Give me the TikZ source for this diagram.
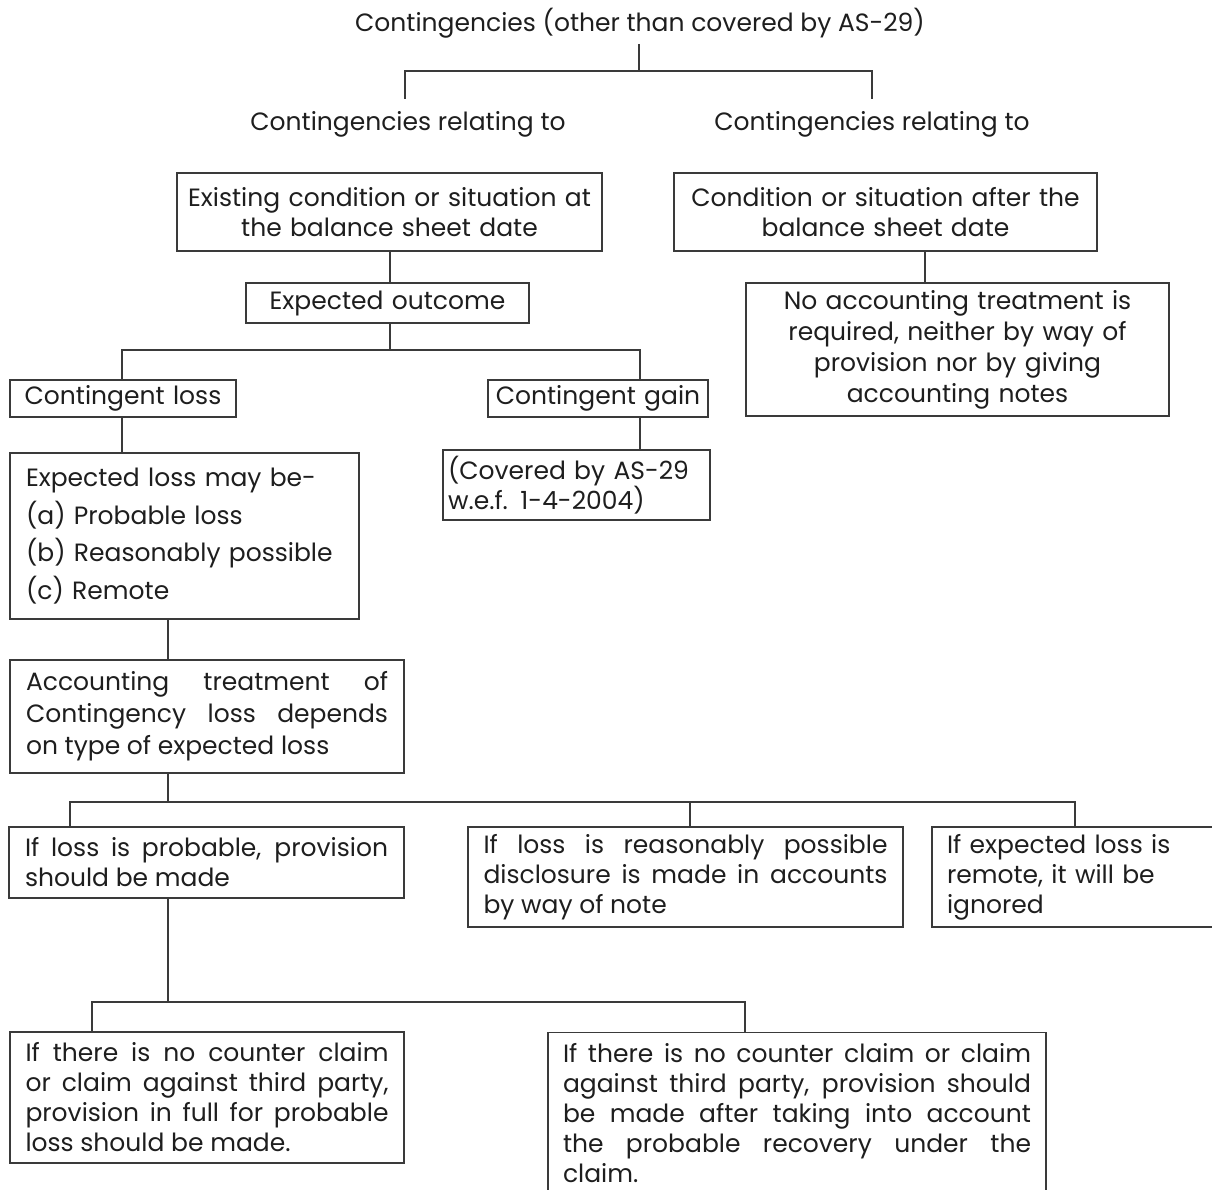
\documentclass[tikz,border=0pt]{standalone}
\usepackage{fontspec}
\setmainfont{Poppins}
\definecolor{ink}{HTML}{1E1E1E}
\definecolor{rule}{HTML}{3A3A3A}
\begin{document}
\begin{tikzpicture}[x=1pt,y=-1pt,
  link/.style={draw=rule, line width=1.3pt},
  base/.style={font=\fontsize{25}{30}\selectfont, text=ink, inner sep=0pt},
  frame/.style={base, draw=rule, line width=1.3pt},
  jbox/.style={frame, align=justify},
  lbox/.style={frame, align=left},
  cbox/.style={frame, align=center},
  label/.style={base, anchor=base}]
\useasboundingbox (0,0) rectangle (1212,1190);
\hyphenpenalty=10000

% headings
\node[label] (title) at (640,32) {Contingencies (other than covered by AS-29)};
\node[label] (relL) at (408,131) {Contingencies relating to};
\node[label] (relR) at (872,131) {Contingencies relating to};

% first level boxes
\node[cbox, minimum width=425pt, minimum height=78pt, text width=405pt] (A) at (389.5,212)
  {Existing condition or situation at\\the balance sheet date};
\node[cbox, minimum width=423pt, minimum height=78pt, text width=405pt] (M) at (885.5,212)
  {Condition or situation after the\\balance sheet date};
\node[cbox, minimum width=283pt, minimum height=40pt, text width=270pt] (B) at (387.5,303)
  {Expected outcome};
\node[cbox, font=\fontsize{25}{31}\selectfont, minimum width=423pt, minimum height=133pt, text width=405pt] (N) at (957.5,349.5)
  {No accounting treatment is\\required, neither by way of\\provision nor by giving\\accounting notes};

% outcome boxes
\node[cbox, minimum width=226pt, minimum height=37pt, text width=214pt] (C) at (123,398.5)
  {Contingent loss};
\node[cbox, minimum width=220pt, minimum height=37pt, text width=210pt] (D) at (598,398.5)
  {Contingent gain};
\node[lbox, minimum width=267pt, minimum height=70pt, text width=257pt] (E) at (576.5,485)
  {(Covered by AS-29\\w.e.f. 1-4-2004)};
\node[lbox, font=\fontsize{25}{37.5}\selectfont, minimum width=349pt, minimum height=166pt, text width=317pt] (F) at (184.5,536)
  {Expected loss may be-\\(a) Probable loss\\(b) Reasonably possible\\(c) Remote};
\node[jbox, font=\fontsize{25}{32}\selectfont, minimum width=394pt, minimum height=113pt, text width=362pt] (G) at (207,716.5)
  {Accounting treatment of\linebreak Contingency loss depends\linebreak on type of expected loss};

% treatment boxes
\node[jbox, minimum width=395pt, minimum height=71pt, text width=363pt] (H) at (206.5,862.5)
  {If loss is probable, provision\linebreak should be made};
\node[jbox, minimum width=435pt, minimum height=100pt, text width=404pt] (I) at (685.5,877)
  {If loss is reasonably possible\linebreak disclosure is made in accounts\linebreak by way of note};
\node[lbox, minimum width=300pt, minimum height=100pt, text width=270pt] (J) at (1082,877)
  {If expected loss is\\remote, it will be\\ignored};

% provision boxes
\node[jbox, minimum width=394pt, minimum height=131pt, text width=363pt] (K) at (207,1097.5)
  {If there is no counter claim\linebreak or claim against third party,\linebreak provision in full for probable\linebreak loss should be made.};
\node[jbox, minimum width=498pt, minimum height=160pt, text width=468pt, anchor=north] (L) at (797,1032)
  {If there is no counter claim or claim\linebreak against third party, provision should\linebreak be made after taking into account\linebreak the probable recovery under the\linebreak claim.};

% connector positions
\coordinate (barT) at (639,71);
\coordinate (dropL) at (405,99);
\coordinate (dropR) at (872,99);
\coordinate (xAB) at (390,0);
\coordinate (barB) at (390,350);
\coordinate (xC) at (122,0);
\coordinate (xD) at (640,0);
\coordinate (xMN) at (925,0);
\coordinate (xFG) at (168,0);
\coordinate (barG) at (168,802);
\coordinate (xH) at (70,0);
\coordinate (xI) at (690,0);
\coordinate (xJ) at (1075,0);
\coordinate (barH) at (168,1002);
\coordinate (xK) at (92,0);
\coordinate (xL) at (745,0);

% connectors
\draw[link] ([yshift=-5pt]title.south -| barT) -- (barT);
\draw[link] (dropL) |- (barT) -| (dropR);
\draw[link] (A.south -| xAB) -- (B.north -| xAB);
\draw[link] (M.south -| xMN) -- (N.north -| xMN);
\draw[link] (B.south -| xAB) -- (barB);
\draw[link] (C.north -| xC) |- (barB) -| (D.north -| xD);
\draw[link] (C.south -| xC) -- (F.north -| xC);
\draw[link] (D.south -| xD) -- (E.north -| xD);
\draw[link] (F.south -| xFG) -- (G.north -| xFG);
\draw[link] (G.south -| xFG) -- (barG);
\draw[link] (H.north -| xH) |- (barG) -| (J.north -| xJ);
\draw[link] (I.north -| xI) -- (xI |- barG);
\draw[link] (H.south -| xFG) -- (barH);
\draw[link] (K.north -| xK) |- (barH) -| (L.north -| xL);
\end{tikzpicture}
\end{document}
